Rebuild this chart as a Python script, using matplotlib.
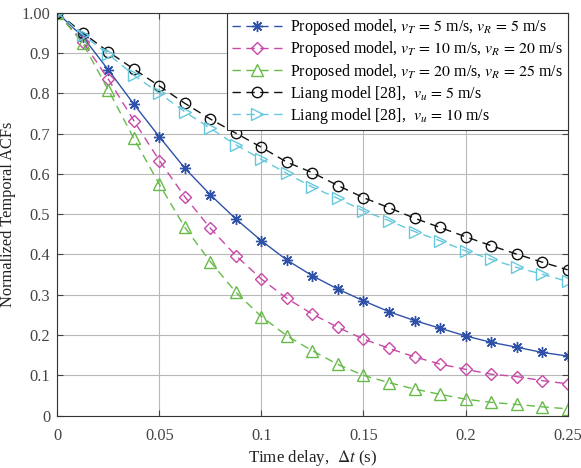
import numpy as np
import matplotlib
matplotlib.use("Agg")
import matplotlib.pyplot as plt
from matplotlib.lines import Line2D

plt.rcParams['font.family'] = ['Liberation Serif', 'DejaVu Serif']
plt.rcParams['mathtext.fontset'] = 'stix'

# time delay grid (s)
dt = [i * 0.0125 for i in range(21)]

acf_prop_5_5 = [1.0, 0.940, 0.858, 0.773, 0.692, 0.614, 0.548, 0.488, 0.434, 0.386, 0.347,
                0.314, 0.285, 0.258, 0.236, 0.217, 0.198, 0.182, 0.170, 0.157, 0.148]
acf_prop_10_20 = [1.0, 0.928, 0.835, 0.732, 0.633, 0.543, 0.465, 0.397, 0.339, 0.291, 0.252,
                  0.219, 0.190, 0.167, 0.146, 0.128, 0.115, 0.103, 0.097, 0.087, 0.079]
acf_prop_20_25 = [1.0, 0.924, 0.808, 0.688, 0.574, 0.467, 0.382, 0.306, 0.246, 0.198, 0.161,
                  0.127, 0.100, 0.082, 0.066, 0.053, 0.041, 0.033, 0.028, 0.022, 0.017]
acf_liang_5 = [1.0, 0.950, 0.903, 0.860, 0.818, 0.775, 0.736, 0.701, 0.666, 0.629, 0.603,
               0.571, 0.541, 0.516, 0.490, 0.467, 0.444, 0.422, 0.401, 0.381, 0.362]
acf_liang_10 = [1.0, 0.945, 0.897, 0.845, 0.800, 0.754, 0.713, 0.672, 0.636, 0.601, 0.567,
                0.539, 0.508, 0.484, 0.457, 0.434, 0.409, 0.388, 0.368, 0.351, 0.333]

labels = [
    r'Proposed model, $v_T\,=\,5$ m/s, $v_R\,=\,5$ m/s',
    r'Proposed model, $v_T\,=\,10$ m/s, $v_R\,=\,20$ m/s',
    r'Proposed model, $v_T\,=\,20$ m/s, $v_R\,=\,25$ m/s',
    r'Liang model [28],  $v_u\,=\,5$ m/s',
    r'Liang model [28],  $v_u\,=\,10$ m/s',
]

c_blue = '#2f52a8'
c_mag = '#c848a8'
c_green = '#66bb48'
c_black = '#111111'
c_cyan = '#66c8dc'

fig = plt.figure(figsize=(5.81, 4.68), dpi=100)
ax = fig.add_axes([0.0986, 0.1118, 0.8784, 0.8611])

ms = 8
ax.plot(dt, acf_prop_5_5, '-', color=c_blue, lw=1.0, marker=(8, 2, 0), ms=ms, mew=1.0)
ax.plot(dt, acf_prop_10_20, '--', color=c_mag, lw=1.0, marker='D', ms=ms - 1.5, mfc='none', mew=1.0,
        dashes=(6, 4))
ax.plot(dt, acf_prop_20_25, '--', color=c_green, lw=1.0, marker='^', ms=ms, mfc='none', mew=1.0,
        dashes=(6, 4))
ax.plot(dt, acf_liang_5, '--', color=c_black, lw=1.0, marker='o', ms=ms - 0.5, mfc='none', mew=1.0,
        dashes=(6, 4))
ax.plot(dt, acf_liang_10, '--', color=c_cyan, lw=1.0, marker='>', ms=ms, mfc='none', mew=1.0,
        dashes=(6, 4))

handles = [
    Line2D([], [], color=c_blue, ls='--', dashes=(6, 4), lw=1.0, marker=(8, 2, 0), ms=ms, mew=1.0),
    Line2D([], [], color=c_mag, ls='--', dashes=(6, 4), lw=1.0, marker='D', ms=ms - 1.5, mfc='none', mew=1.0),
    Line2D([], [], color=c_green, ls='--', dashes=(6, 4), lw=1.0, marker='^', ms=ms, mfc='none', mew=1.0),
    Line2D([], [], color=c_black, ls='--', dashes=(6, 4), lw=1.0, marker='o', ms=ms - 0.5, mfc='none', mew=1.0),
    Line2D([], [], color=c_cyan, ls='--', dashes=(6, 4), lw=1.0, marker='>', ms=ms, mfc='none', mew=1.0),
]
leg = ax.legend(handles, labels, loc='upper right', fontsize=11.4, frameon=True, fancybox=False,
                edgecolor='#333333', framealpha=1, borderpad=0.3, labelspacing=0.13,
                handlelength=3.2, handletextpad=0.5, borderaxespad=0)
leg.get_frame().set_linewidth(0.8)

ax.set_xlim(0, 0.25)
ax.set_ylim(0, 1.0)
ax.set_xticks([0, 0.05, 0.1, 0.15, 0.2, 0.25])
ax.set_xticklabels(['0', '0.05', '0.1', '0.15', '0.2', '0.25'])
ax.set_yticks(np.arange(0, 1.01, 0.1))
ax.set_yticklabels(['0', '0.1', '0.2', '0.3', '0.4', '0.5', '0.6', '0.7', '0.8', '0.9', '1.00'])
ax.grid(True, color='#b8b8b8', lw=0.8)
ax.set_axisbelow(True)
ax.tick_params(axis='both', direction='in', top=True, right=True, labelsize=11.8, colors='#444444',
               length=4)
ax.tick_params(axis='y', pad=5)
ax.tick_params(axis='x', pad=9)
for s in ax.spines.values():
    s.set_color('#333333')
    s.set_linewidth(0.8)

ax.set_xlabel(r'Time delay,  $\Delta t$ (s)', fontsize=12.2, color='#222222', labelpad=3)
ax.set_ylabel('Normalized Temporal ACFs', fontsize=11.8, color='#222222', labelpad=4)

fig.savefig('out.png', dpi=100)
